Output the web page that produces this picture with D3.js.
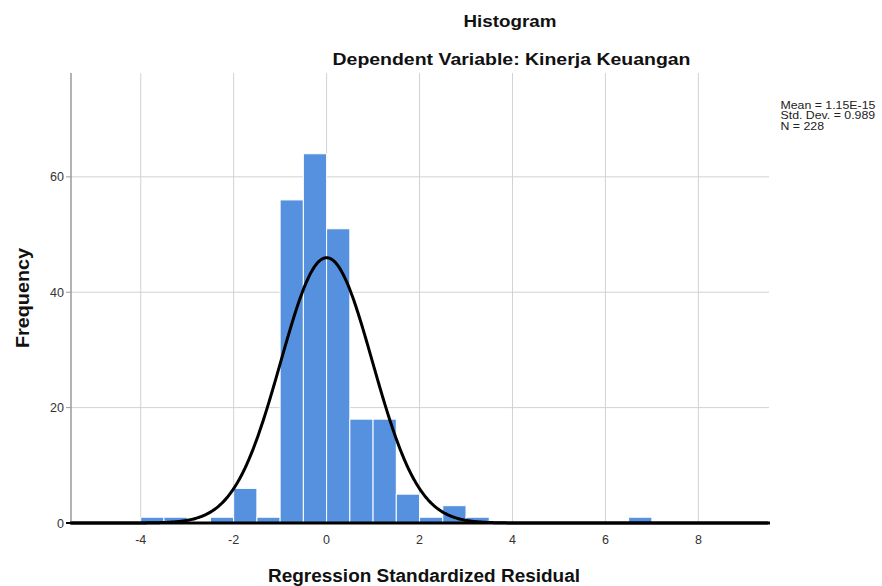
<!DOCTYPE html>
<html>
<head>
<meta charset="utf-8">
<script src="https://cdn.jsdelivr.net/npm/d3@7"></script>
<style>
  html, body { margin: 0; padding: 0; background: #fff; }
  svg { display: block; font-family: "Liberation Sans", Arial, sans-serif; }
</style>
</head>
<body>
<svg id="chart" width="882" height="586"></svg>
<script>
// ---- data ----
const binStarts = [-4, -3.5, -2.5, -2, -1.5, -1, -0.5, 0, 0.5, 1, 1.5, 2, 2.5, 3, 6.5];
const binCounts = [1, 1, 1, 6, 1, 56, 64, 51, 18, 18, 5, 1, 3, 1, 1];
const binWidth = 0.5;
const xTicks = [-4, -2, 0, 2, 4, 6, 8];
const yTicks = [0, 20, 40, 60];
const statMean = 1.15e-15;
const statSD = 0.989;
const statN = 228;
const legendLines = ["Mean = 1.15E-15", "Std. Dev. = 0.989", "N = 228"];

// ---- layout ----
const svg = d3.select("#chart");
const pLeft = 71, pRight = 769, pTop = 73, pBottom = 523;
const x = d3.scaleLinear().domain([-5.5, 9.52]).range([pLeft, pRight]);
const y = d3.scaleLinear().domain([0, 78]).range([pBottom, pTop]);

// gridlines
const g = svg.append("g");
g.selectAll("line.vg").data(xTicks).enter().append("line")
  .attr("x1", d => x(d)).attr("x2", d => x(d))
  .attr("y1", pTop).attr("y2", pBottom)
  .attr("stroke", "#d2d2d2").attr("stroke-width", 1);
g.selectAll("line.hg").data(yTicks.filter(d => d > 0)).enter().append("line")
  .attr("x1", pLeft).attr("x2", pRight)
  .attr("y1", d => y(d)).attr("y2", d => y(d))
  .attr("stroke", "#d2d2d2").attr("stroke-width", 1);

// bars
const bins = binStarts.map((s, i) => ({ x0: s, x1: s + binWidth, n: binCounts[i] }));
svg.append("g").selectAll("rect").data(bins).enter().append("rect")
  .attr("x", d => x(d.x0))
  .attr("y", d => y(d.n))
  .attr("width", d => x(d.x1) - x(d.x0))
  .attr("height", d => y(0) - y(d.n))
  .attr("fill", "#5591df")
  .attr("stroke", "#ffffff")
  .attr("stroke-width", 1);

// fitted normal curve (from the stated mean, sd and N)
const curvePts = d3.range(-5.5, 9.52, 0.02).map(v => [v,
  statN * binWidth / (statSD * Math.sqrt(2 * Math.PI)) * Math.exp(-0.5 * Math.pow((v - statMean) / statSD, 2))]);
svg.append("path").datum(curvePts)
  .attr("fill", "none").attr("stroke", "#000").attr("stroke-width", 3)
  .attr("d", d3.line().x(d => x(d[0])).y(d => y(d[1])));

// axes
svg.append("line").attr("x1", pLeft).attr("x2", pLeft).attr("y1", pTop).attr("y2", pBottom)
  .attr("stroke", "#9a9a9a").attr("stroke-width", 1.5);
svg.append("line").attr("x1", pLeft - 1).attr("x2", pRight + 1).attr("y1", pBottom).attr("y2", pBottom)
  .attr("stroke", "#000").attr("stroke-width", 3);
svg.append("line").attr("x1", pLeft - 5).attr("x2", pLeft).attr("y1", pBottom).attr("y2", pBottom)
  .attr("stroke", "#000").attr("stroke-width", 2);
g.selectAll("line.yt").data(yTicks.filter(d => d > 0)).enter().append("line")
  .attr("x1", pLeft - 5).attr("x2", pLeft)
  .attr("y1", d => y(d)).attr("y2", d => y(d))
  .attr("stroke", "#9a9a9a").attr("stroke-width", 1);

// tick labels
svg.append("g").selectAll("text").data(xTicks).enter().append("text")
  .attr("x", d => x(d)).attr("y", 544)
  .attr("text-anchor", "middle").attr("font-size", 12.5).attr("fill", "#333")
  .text(d => d);
svg.append("g").selectAll("text").data(yTicks).enter().append("text")
  .attr("x", 64).attr("y", d => y(d) + 4.5)
  .attr("text-anchor", "end").attr("font-size", 12.5).attr("fill", "#333")
  .text(d => d);

// titles
function label(txt, xc, yb, size, len, rot) {
  const t = svg.append("text")
    .attr("text-anchor", "middle")
    .attr("font-size", size).attr("font-weight", "bold").attr("fill", "#111")
    .attr("textLength", len).attr("lengthAdjust", "spacingAndGlyphs")
    .text(txt);
  if (rot) t.attr("transform", `translate(${xc},${yb}) rotate(-90)`);
  else t.attr("x", xc).attr("y", yb);
}
label("Histogram", 510, 27, 16.5, 93);
label("Dependent Variable: Kinerja Keuangan", 511.5, 65, 16.5, 358);
label("Regression Standardized Residual", 424, 582, 17.5, 312);
label("Frequency", 29, 298, 17.5, 100, true);

// legend (uniform horizontal stretch so the first line spans ~95px)
const lg = svg.append("g");
const lt = lg.selectAll("text").data(legendLines).enter().append("text")
  .attr("x", 0).attr("y", (d, i) => 109 + i * 10.5)
  .attr("font-size", 10.5).attr("fill", "#222")
  .text(d => d);
const natural = lt.nodes()[0].getComputedTextLength() || 78;
lg.attr("transform", `translate(780.5,0) scale(${95 / natural},1)`);
</script>
</body>
</html>
